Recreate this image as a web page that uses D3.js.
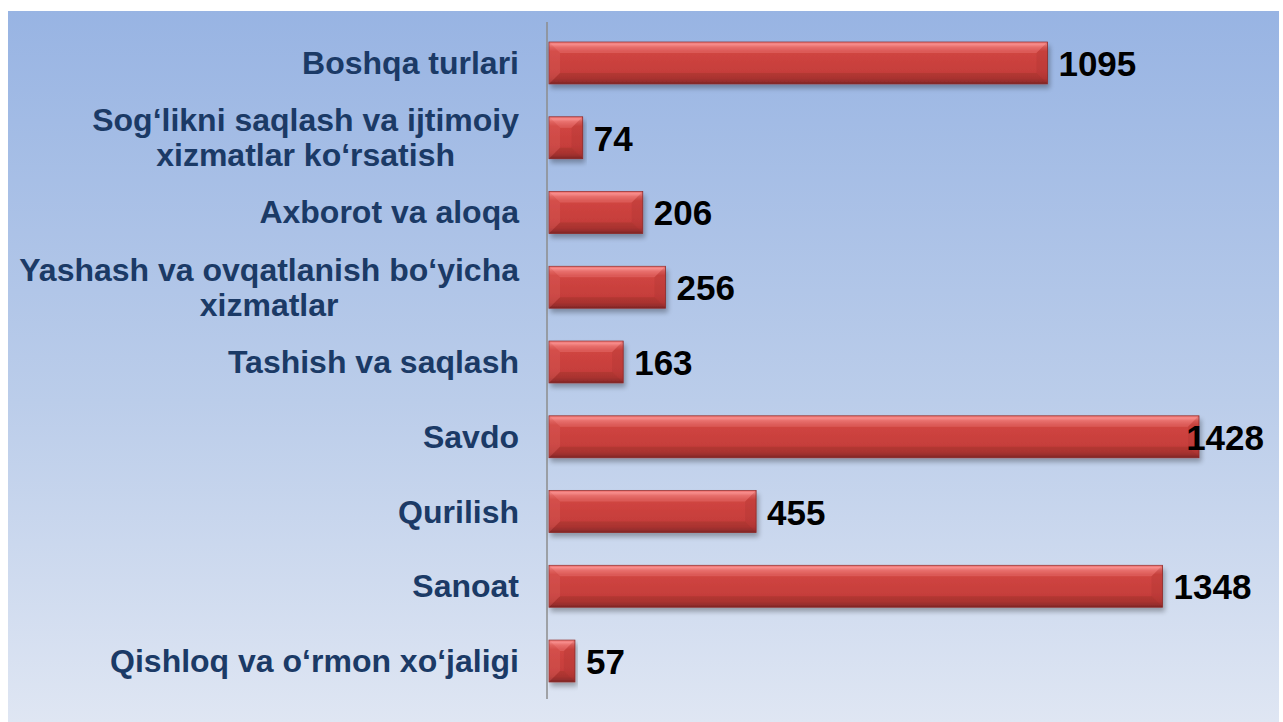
<!DOCTYPE html>
<html><head><meta charset="utf-8">
<script src="https://cdn.jsdelivr.net/npm/d3@7"></script>
<style>html,body{margin:0;padding:0;background:#fff;}svg{display:block;}</style>
</head><body>
<svg id="chart" width="1283" height="722"></svg>
<script>
const categories = [
  "Boshqa turlari",
  "Sog‘likni saqlash va ijtimoiy|xizmatlar ko‘rsatish",
  "Axborot va aloqa",
  "Yashash va ovqatlanish bo‘yicha|xizmatlar",
  "Tashish va saqlash",
  "Savdo",
  "Qurilish",
  "Sanoat",
  "Qishloq va o‘rmon xo‘jaligi"
];
const values = [1095, 74, 206, 256, 163, 1428, 455, 1348, 57];

const svg = d3.select("#chart");
const W = 1283, H = 722;
const defs = svg.append("defs");

const bg = defs.append("linearGradient").attr("id","bg").attr("x1",0).attr("y1",0).attr("x2",0).attr("y2",1);
bg.append("stop").attr("offset","0%").attr("stop-color","#98B4E3");
bg.append("stop").attr("offset","55%").attr("stop-color","#BBCDEA");
bg.append("stop").attr("offset","100%").attr("stop-color","#DFE6F3");

const bar = defs.append("linearGradient").attr("id","bar").attr("x1",0).attr("y1",0).attr("x2",0).attr("y2",1);
[["0%","#E35552"],["5%","#F58A88"],["12%","#E0605C"],["22%","#D04541"],["70%","#C63E3B"],["86%","#B83835"],["94%","#A03030"],["100%","#802625"]]
  .forEach(([o,c]) => bar.append("stop").attr("offset",o).attr("stop-color",c));

const sh = defs.append("filter").attr("id","shadow").attr("x","-5%").attr("y","-20%").attr("width","115%").attr("height","160%");
sh.append("feGaussianBlur").attr("in","SourceAlpha").attr("stdDeviation",2.5);
sh.append("feOffset").attr("dx",2).attr("dy",4).attr("result","b");
sh.append("feComponentTransfer").append("feFuncA").attr("type","linear").attr("slope",0.3);
const m = sh.append("feMerge"); m.append("feMergeNode"); m.append("feMergeNode").attr("in","SourceGraphic");

svg.append("rect").attr("x",8).attr("y",11).attr("width",1271).attr("height",H-11).attr("fill","url(#bg)");

const x = d3.scaleLinear().domain([0,1428]).range([549,1199]);
const y = d3.scaleBand().domain(categories).range([25.6,698.4]).paddingInner(0.44).paddingOuter(0.22);

svg.append("line").attr("x1",547).attr("x2",547).attr("y1",22).attr("y2",699)
  .attr("stroke","#8C8C8C").attr("stroke-width",1.5);

const g = svg.append("g");
const bars = g.selectAll("g.bar").data(categories).join("g").attr("class","bar");
bars.append("rect")
  .attr("x", x(0)).attr("y", d => y(d))
  .attr("width", (d,i) => x(values[i]) - x(0)).attr("height", y.bandwidth())
  .attr("fill","url(#bar)").attr("stroke","#8E2B2A").attr("stroke-width",0.8)
  .attr("filter","url(#shadow)");
const geo = (d,i) => {
  const x0 = x(0), x1 = x(values[i]), y0 = y(d), h = y.bandwidth(), b = Math.min(11,(x1-x0)/2);
  return {x0,x1,y0,h,b};
};
bars.append("path")
  .attr("d",(d,i) => { const {x0,x1,y0,h,b} = geo(d,i);
    return `M${x0},${y0} L${x0+b},${y0+b} L${x0+b},${y0+h-b} L${x0},${y0+h} Z`; })
  .attr("fill","#E06A66").attr("opacity",0.25);
bars.append("path")
  .attr("d",(d,i) => { const {x0,x1,y0,h,b} = geo(d,i);
    return `M${x0},${y0} L${x1},${y0} L${x1-b},${y0+b} L${x0+b},${y0+b} Z`; })
  .attr("fill","#FF9C9A").attr("opacity",0.25);
bars.append("path")
  .attr("d",(d,i) => { const {x0,x1,y0,h,b} = geo(d,i);
    return `M${x1},${y0} L${x1},${y0+h} L${x1-b},${y0+h-b} L${x1-b},${y0+b} Z`; })
  .attr("fill","#8A2826").attr("opacity",0.15);
bars.append("path")
  .attr("d",(d,i) => { const {x0,x1,y0,h,b} = geo(d,i);
    return `M${x0},${y0+h} L${x1},${y0+h} L${x1-b},${y0+h-b} L${x0+b},${y0+h-b} Z`; })
  .attr("fill","#6E1F1E").attr("opacity",0.18);

const vl = g.selectAll("text.val").data(categories).join("text").attr("class","val")
  .attr("y", d => y(d) + y.bandwidth()/2 + 13)
  .attr("font-family","Liberation Sans, Arial, sans-serif").attr("font-weight","bold")
  .attr("font-size",35).attr("fill","#000")
  .text((d,i) => values[i]);
vl.each(function(d,i){
  const w = this.getComputedTextLength();
  let px = x(values[i]) + 11;
  if (px + w > 1264) px = 1264 - w;
  d3.select(this).attr("x", px);
});

const labelRight = 519, lineH = 35;
categories.forEach(c => {
  const lines = c.split("|");
  const t = svg.append("text")
    .attr("font-family","Liberation Sans, Arial, sans-serif").attr("font-weight","bold")
    .attr("font-size",32).attr("fill","#1B3A66");
  const cy = y(c) + y.bandwidth()/2;
  lines.forEach((ln,k) => {
    t.append("tspan").attr("y", cy + 11 + (k - (lines.length-1)/2)*lineH).text(ln);
  });
  let maxW = 0;
  t.selectAll("tspan").each(function(){ maxW = Math.max(maxW, this.getComputedTextLength()); });
  t.attr("text-anchor","middle").selectAll("tspan").attr("x", labelRight - maxW/2);
});
</script>
</body></html>
